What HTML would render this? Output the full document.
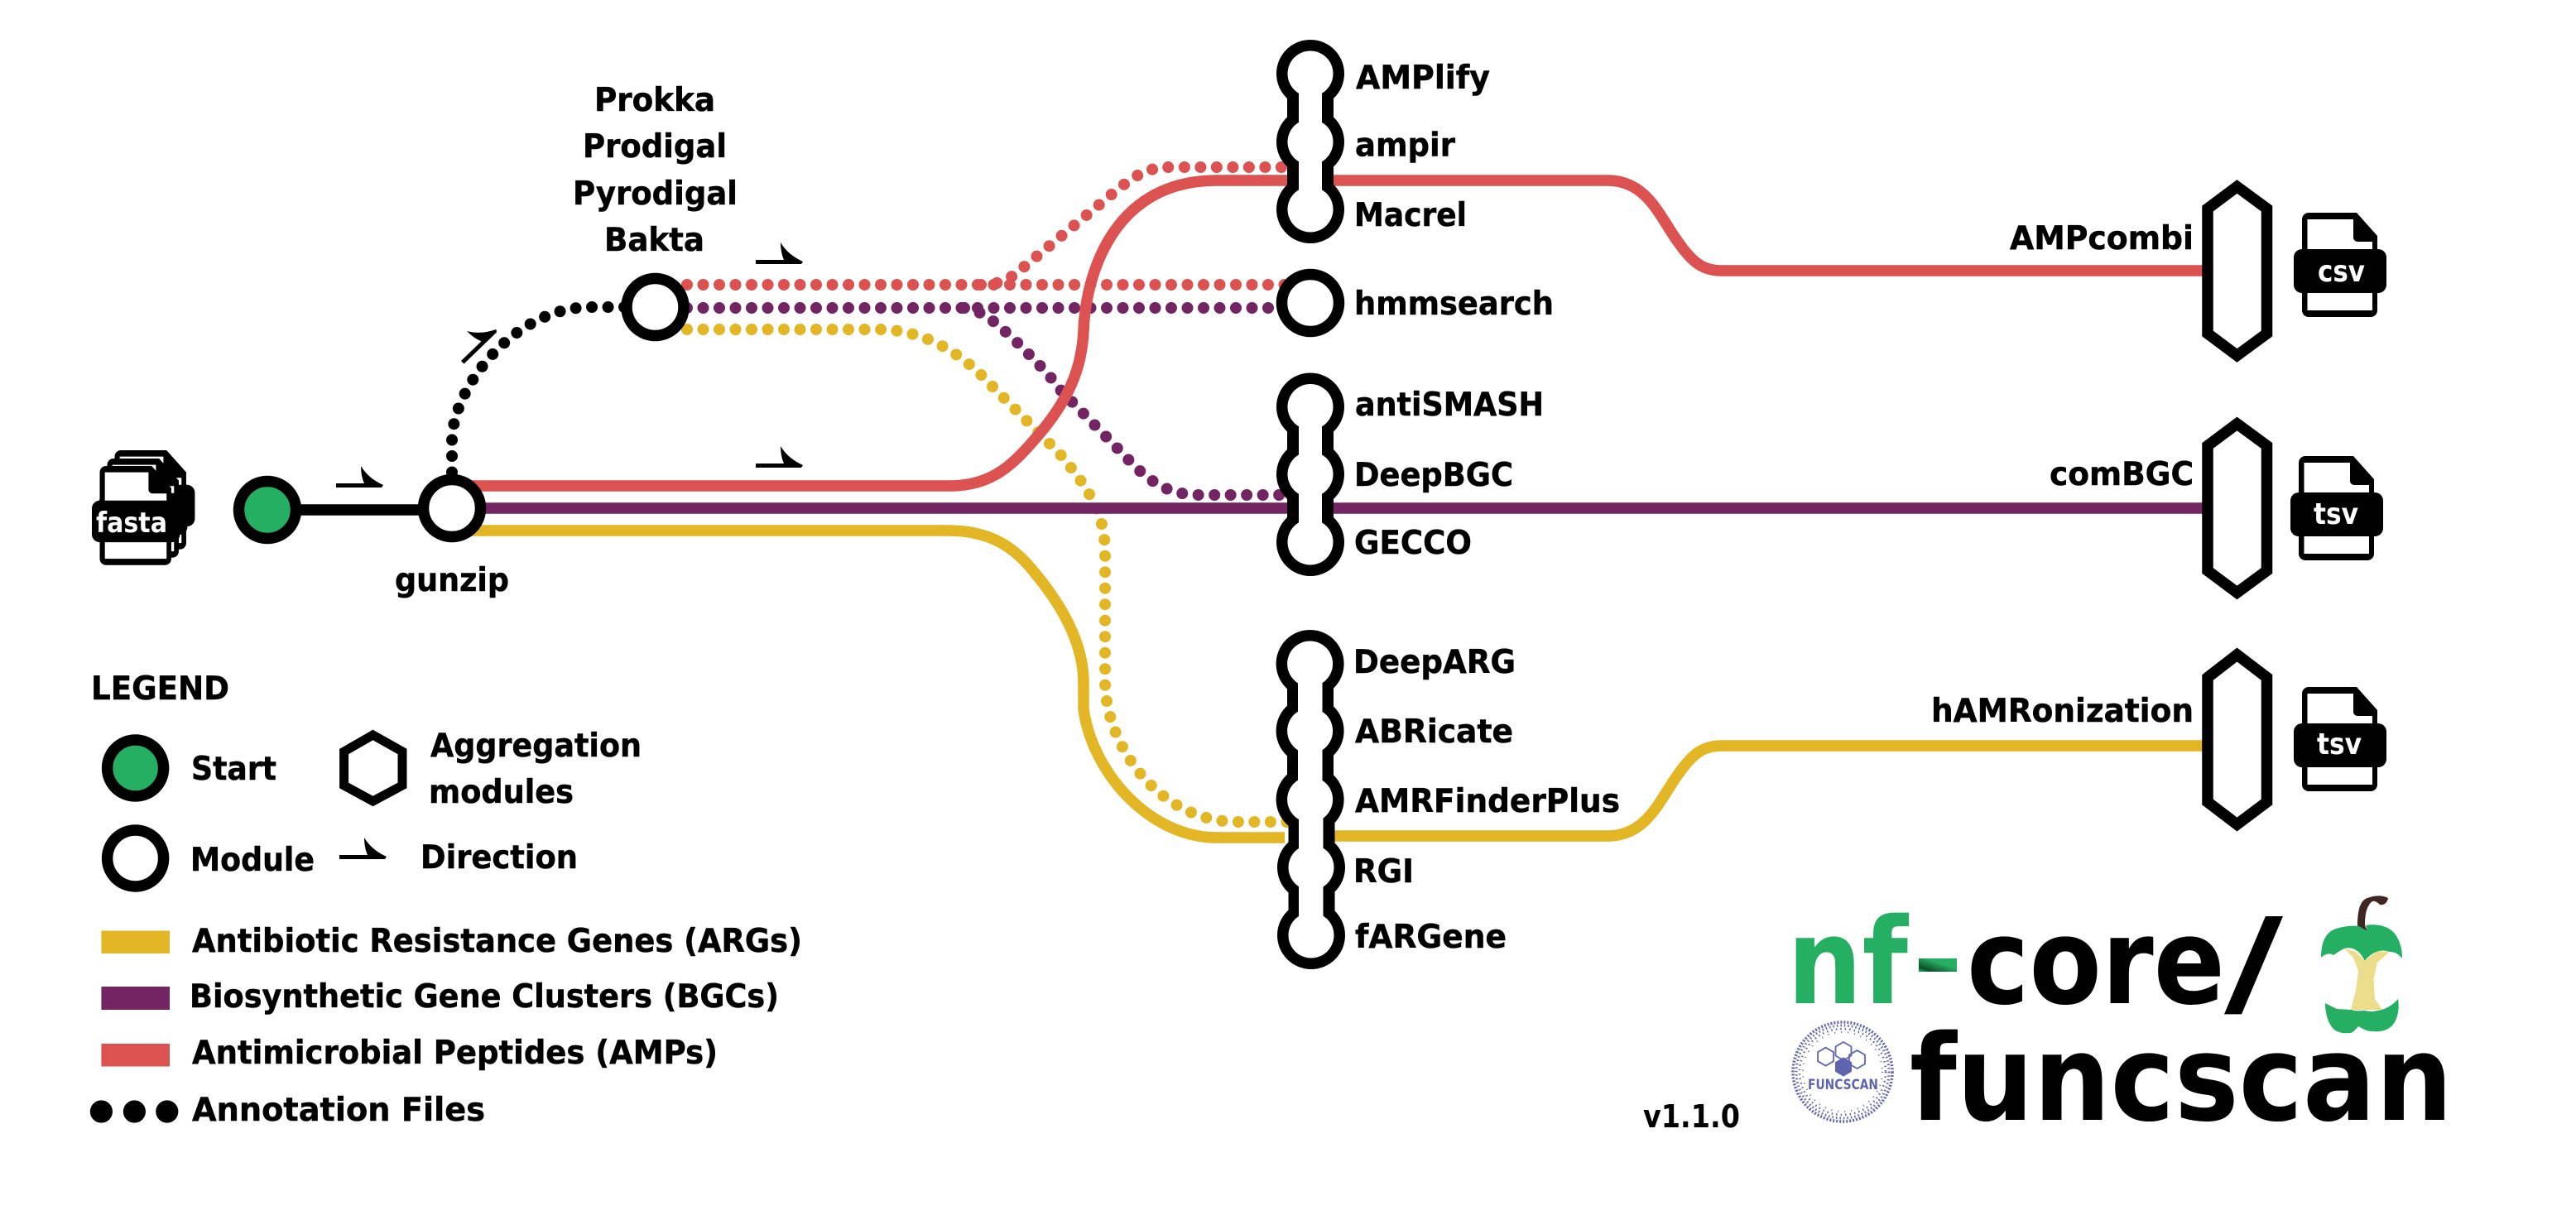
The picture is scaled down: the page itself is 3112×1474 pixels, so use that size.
<!DOCTYPE html>
<html><head><meta charset="utf-8"><title>nf-core/funcscan</title>
<style>
html,body{margin:0;padding:0;background:#fff;width:3112px;height:1474px;overflow:hidden}
svg{display:block}
text{font-family:"DejaVu Sans","Liberation Sans",sans-serif;font-weight:700;fill:#000}
.l{font-size:39.5px;stroke:#000;stroke-width:.5px}
.big{font-size:144px}
.w{fill:#fff;font-size:36px}
.d{fill:none;stroke-width:14;stroke-linecap:round;stroke-dasharray:0 19.5}
.s{fill:none;stroke-width:13.5}
.n{fill:#fff;stroke:#000;stroke-width:13.5}
.h{fill:#fff;stroke:#000;stroke-width:13.5;stroke-miterlimit:10}
</style></head><body>
<svg xmlns="http://www.w3.org/2000/svg" width="3112" height="1474" viewBox="0 0 3112 1474">
<defs>
<g id="file">
<path d="M18,0H76L101,28V118a8,8 0 0 1 -8,8H18a8,8 0 0 1 -8,-8V8a8,8 0 0 1 8,-8Z" fill="#000"/>
<path d="M16.5,8H72V30a5,5 0 0 0 5,5H95V47H16.5Z" fill="#fff"/>
<rect x="16.5" y="95.5" width="78.5" height="22.5" fill="#fff"/>
<rect x="0" y="44" width="112" height="53" rx="10" fill="#000"/>
</g>
<path id="arr" d="M0,0H34Q30,-9 30,-21Q39,-6 57,2L55,5H0Z" fill="#000"/>
<linearGradient id="dash" x1="0" x2="1" y1="1" y2="0"><stop offset="0" stop-color="#25af63"/><stop offset=".18" stop-color="#0c4f2b"/><stop offset=".45" stop-color="#1d8a4e"/><stop offset=".6" stop-color="#25af63"/></linearGradient>
</defs>
<rect width="3112" height="1474" fill="#fff"/>

<!-- dotted -->
<g class="dots">
<path class="d" stroke="#000" d="M546,590V533C546,470 620,371 714,371H760"/>
<path class="d" stroke="#dc5250" d="M830,344H1555"/>
<path class="d" stroke="#dc5250" d="M1185,344C1215,344 1225,332 1240,320L1338,239C1370,212 1385,202 1415,202H1550"/>
<path class="d" stroke="#722463" d="M830,372H1545"/>
<path class="d" stroke="#722463" d="M1165,372C1190,376 1205,392 1228,413C1250,435 1270,455 1280,470L1361,553C1395,590 1420,598 1450,598H1550"/>
<path class="d" stroke="#e2b624" d="M830,398H1060C1120,398 1165,430 1198,466L1280,548C1315,590 1335,620 1335,668V823C1335,900 1400,993 1495,993H1555"/>
</g>

<!-- solid -->
<path d="M323,616H546" stroke="#000" stroke-width="13.5" fill="none"/>
<path class="s" stroke="#dc5250" d="M546,587H1148C1200,587 1225,560 1255,525C1295,478 1307,440 1309,400C1311,340 1340,218 1470,218H1942C1990,218 2005,262 2027,292C2045,318 2058,327 2080,327H2668"/>
<path class="s" stroke="#722463" d="M546,614H2668"/>
<path class="s" stroke="#e2b624" d="M546,641H1145C1195,641 1225,660 1250,692C1290,740 1309,785 1309,825V857C1320,935 1390,1012 1470,1012H1552"/>
<path class="s" stroke="#e2b624" d="M1605,1010H1942C1990,1010 2005,966 2027,936C2045,910 2058,901 2080,901H2668"/>

<!-- arrows -->
<use href="#arr" x="406" y="584"/>
<use href="#arr" x="913" y="314"/>
<use href="#arr" x="913" y="560"/>
<use href="#arr" transform="translate(557,436) rotate(-44)"/>
<use href="#arr" x="410" y="1033"/>

<!-- nodes -->
<circle class="n" cx="323" cy="616" r="34.5" style="fill:#25af63"/>
<circle class="n" cx="546" cy="614" r="34.5"/>
<circle class="n" cx="791.5" cy="371" r="34.5"/>
<circle class="n" cx="1583" cy="366" r="34.5"/>

<!-- pill 1 -->
<g>
<circle cx="1583" cy="89" r="41"/><circle cx="1583" cy="171.5" r="41"/><circle cx="1583" cy="253" r="41"/>
<rect x="1555" y="89" width="56" height="164"/>
<g fill="#fff">
<circle cx="1583" cy="89" r="27.5"/><circle cx="1583" cy="171.5" r="27.5"/><circle cx="1583" cy="253" r="27.5"/>
<rect x="1569" y="89" width="28" height="164"/>
</g></g>
<!-- pill 2 -->
<g>
<circle cx="1583" cy="491.5" r="41"/><circle cx="1583" cy="573" r="41"/><circle cx="1583" cy="655" r="41"/>
<rect x="1555" y="491" width="56" height="164"/>
<g fill="#fff">
<circle cx="1583" cy="491.5" r="27.5"/><circle cx="1583" cy="573" r="27.5"/><circle cx="1583" cy="655" r="27.5"/>
<rect x="1569" y="491" width="28" height="164"/>
</g></g>
<!-- pill 3 -->
<g>
<circle cx="1582.6" cy="802" r="41"/><circle cx="1582.6" cy="883" r="41"/><circle cx="1582.6" cy="966" r="41"/><circle cx="1584" cy="1048" r="41"/><circle cx="1584" cy="1130" r="41"/>
<rect x="1555" y="802" width="56" height="170"/><rect x="1556.5" y="960" width="56" height="170"/>
<g fill="#fff">
<circle cx="1582.6" cy="802" r="27.5"/><circle cx="1582.6" cy="883" r="27.5"/><circle cx="1582.6" cy="966" r="27.5"/><circle cx="1584" cy="1048" r="27.5"/><circle cx="1584" cy="1130" r="27.5"/>
<rect x="1568" y="802" width="29.5" height="170"/><rect x="1569" y="960" width="29.5" height="170"/>
</g></g>

<!-- hexagons -->
<polygon class="h" points="2702.5,225.5 2738.5,252 2738.5,403 2702.5,429.5 2667,403 2667,252"/>
<polygon class="h" points="2702.5,512 2738.5,538.5 2738.5,689.5 2702.5,716 2667,689.5 2667,538.5"/>
<polygon class="h" points="2702.5,791 2738.5,818.5 2738.5,969 2702.5,996 2667,969 2667,818.5"/>

<!-- file icons -->
<use href="#file" x="2771" y="257"/>
<use href="#file" x="2767" y="551"/>
<use href="#file" x="2771" y="830"/>
<text class="w" x="2800" y="340" textLength="57" lengthAdjust="spacingAndGlyphs">csv</text>
<text class="w" x="2795" y="633" textLength="54" lengthAdjust="spacingAndGlyphs">tsv</text>
<text class="w" x="2799" y="911" textLength="54" lengthAdjust="spacingAndGlyphs">tsv</text>

<!-- fasta -->
<g transform="translate(129,544) scale(.95)"><use href="#file"/></g>
<g transform="translate(120,554) scale(.95)"><use href="#file"/></g>
<g transform="translate(111,563) scale(.95)"><use href="#file"/></g>
<text class="w" x="116" y="643" textLength="86" lengthAdjust="spacingAndGlyphs" style="font-size:34px">fasta</text>

<!-- labels -->
<g class="lab">
<text class="l" x="1638" y="107" textLength="162" lengthAdjust="spacingAndGlyphs">AMPlify</text>
<text class="l" x="1637" y="188.5" textLength="121" lengthAdjust="spacingAndGlyphs">ampir</text>
<text class="l" x="1636" y="273" textLength="136" lengthAdjust="spacingAndGlyphs">Macrel</text>
<text class="l" x="1636" y="380" textLength="241" lengthAdjust="spacingAndGlyphs">hmmsearch</text>
<text class="l" x="1637" y="502" textLength="228" lengthAdjust="spacingAndGlyphs">antiSMASH</text>
<text class="l" x="1636" y="587" textLength="192" lengthAdjust="spacingAndGlyphs">DeepBGC</text>
<text class="l" x="1636" y="669" textLength="142" lengthAdjust="spacingAndGlyphs">GECCO</text>
<text class="l" x="1635" y="813" textLength="196" lengthAdjust="spacingAndGlyphs">DeepARG</text>
<text class="l" x="1637" y="897" textLength="191" lengthAdjust="spacingAndGlyphs">ABRicate</text>
<text class="l" x="1637" y="981" textLength="320" lengthAdjust="spacingAndGlyphs">AMRFinderPlus</text>
<text class="l" x="1635" y="1066" textLength="73" lengthAdjust="spacingAndGlyphs">RGI</text>
<text class="l" x="1637" y="1145" textLength="183" lengthAdjust="spacingAndGlyphs">fARGene</text>
<text class="l" x="718" y="134" textLength="146" lengthAdjust="spacingAndGlyphs">Prokka</text>
<text class="l" x="704" y="190" textLength="174" lengthAdjust="spacingAndGlyphs">Prodigal</text>
<text class="l" x="692" y="247" textLength="199" lengthAdjust="spacingAndGlyphs">Pyrodigal</text>
<text class="l" x="730" y="303" textLength="121" lengthAdjust="spacingAndGlyphs">Bakta</text>
<text class="l" x="477" y="714" textLength="138" lengthAdjust="spacingAndGlyphs">gunzip</text>
<text class="l" x="2428" y="301" textLength="222" lengthAdjust="spacingAndGlyphs">AMPcombi</text>
<text class="l" x="2476" y="586" textLength="174" lengthAdjust="spacingAndGlyphs">comBGC</text>
<text class="l" x="2333" y="872" textLength="317" lengthAdjust="spacingAndGlyphs">hAMRonization</text>
<text x="1985" y="1362" textLength="117" lengthAdjust="spacingAndGlyphs" style="font-size:38px">v1.1.0</text>
</g>

<!-- legend -->
<text class="l" x="110" y="845" textLength="167" lengthAdjust="spacingAndGlyphs">LEGEND</text>
<circle class="n" cx="163.6" cy="928" r="34" style="fill:#25af63"/>
<circle class="n" cx="163.6" cy="1037" r="34"/>
<text class="l" x="231" y="942" textLength="103" lengthAdjust="spacingAndGlyphs">Start</text>
<text class="l" x="230" y="1052" textLength="150" lengthAdjust="spacingAndGlyphs">Module</text>
<polygon points="450.5,888 486,908 486,949 450.5,968 415.6,949 415.6,908" fill="#fff" stroke="#000" stroke-width="11"/>
<text class="l" x="520" y="914" textLength="255" lengthAdjust="spacingAndGlyphs">Aggregation</text>
<text class="l" x="518" y="970" textLength="175" lengthAdjust="spacingAndGlyphs">modules</text>
<text class="l" x="508" y="1049" textLength="190" lengthAdjust="spacingAndGlyphs">Direction</text>
<rect x="122.4" y="1124.5" width="82.6" height="27.5" fill="#e2b624"/>
<rect x="122.4" y="1192" width="82.6" height="28" fill="#722463"/>
<rect x="122.4" y="1261" width="82.6" height="27.5" fill="#dc5250"/>
<text class="l" x="232" y="1150" textLength="737" lengthAdjust="spacingAndGlyphs">Antibiotic Resistance Genes (ARGs)</text>
<text class="l" x="229" y="1217" textLength="712" lengthAdjust="spacingAndGlyphs">Biosynthetic Gene Clusters (BGCs)</text>
<text class="l" x="232" y="1285" textLength="635" lengthAdjust="spacingAndGlyphs">Antimicrobial Peptides (AMPs)</text>
<text class="l" x="232" y="1354" textLength="354" lengthAdjust="spacingAndGlyphs">Annotation Files</text>
<circle cx="122.4" cy="1343" r="13.6"/><circle cx="162.4" cy="1343" r="13.6"/><circle cx="201.8" cy="1343" r="13.6"/>

<!-- logo text -->
<text class="big" x="2159" y="1212" textLength="146" lengthAdjust="spacingAndGlyphs" style="fill:#25af63">nf</text>
<rect x="2318" y="1158" width="46" height="16" fill="url(#dash)"/>
<text class="big" x="2376" y="1212" textLength="312" lengthAdjust="spacingAndGlyphs">core</text>
<text class="big" x="2687" y="1212" textLength="71" lengthAdjust="spacingAndGlyphs">/</text>
<text class="big" x="2307" y="1353" textLength="656" lengthAdjust="spacingAndGlyphs">funcscan</text>

<!-- funcscan badge -->
<g fill="none" stroke="#5e64b0">
<circle cx="2226" cy="1295" r="60" stroke-width="3.5" stroke-dasharray="2 2"/>
<circle cx="2226" cy="1295" r="56" stroke-width="3" stroke-dasharray="1.5 3"/>
<circle cx="2226" cy="1295" r="52" stroke-width="2.5" stroke-dasharray="1.5 4"/>
<circle cx="2226" cy="1295" r="48" stroke-width="2" stroke-dasharray="1 7"/>
<polygon stroke-width="1.8" points="2205.6,1265.7 2215.1,1271.2 2215.1,1282.2 2205.6,1287.7 2196.1,1282.2 2196.1,1271.2"/>
<polygon stroke-width="1.8" points="2227,1259 2236.5,1264.5 2236.5,1275.5 2227,1281 2217.5,1275.5 2217.5,1264.5"/>
<polygon stroke-width="1.8" points="2243.5,1269 2253,1274.5 2253,1285.5 2243.5,1291 2234,1285.5 2234,1274.5"/>
<polygon fill="#5e64b0" stroke-width="1" points="2227,1278 2236.5,1283.5 2236.5,1294.5 2227,1300 2217.5,1294.5 2217.5,1283.5"/>
</g>
<text x="2184" y="1316" textLength="85" lengthAdjust="spacingAndGlyphs" style="font-size:17px;fill:#5e64b0">FUNCSCAN</text>

<!-- apple -->
<path d="M2848,1119C2848,1100 2851,1088 2860,1085C2870,1081 2880,1082 2885,1085C2884,1091 2880,1094 2875,1093C2872,1090 2869,1088 2866,1089C2859,1094 2857,1105 2857,1118L2860,1125Z" fill="#3e2723"/>
<path d="M2832,1146L2846,1150L2856.6,1160.7L2872,1149L2886.5,1150L2872,1163L2867.5,1183L2869,1207L2878,1220L2840,1220L2846,1197L2849,1173L2843,1157Z" fill="#ecdd8a"/>
<path d="M2804,1157C2804,1138 2810,1126 2822,1122C2832,1119 2842,1118 2850,1119L2860,1125L2858,1118C2870,1116 2885,1118 2893,1128C2900,1137 2902,1148 2902,1158C2896,1151 2892,1150 2886.5,1150C2876,1146 2866,1150 2856.6,1160.7C2852,1150 2843,1143 2832,1146C2826,1149 2822,1152 2819,1154C2815,1151 2809,1152 2804,1157Z" fill="#25af63"/>
<path d="M2809,1212L2823,1219L2840.5,1220C2846,1222 2852,1221 2858,1221C2863,1223 2868,1222 2872,1221C2881,1220 2890,1215 2897,1207C2899,1218 2897,1235 2886.5,1242C2880,1246 2872,1247 2866,1246C2858,1246 2853,1242 2849,1240C2845,1245 2841,1249 2837.6,1248C2830,1249 2824,1247 2820,1244C2813,1238 2809,1225 2809,1212Z" fill="#25af63"/>
</svg>
</body></html>
